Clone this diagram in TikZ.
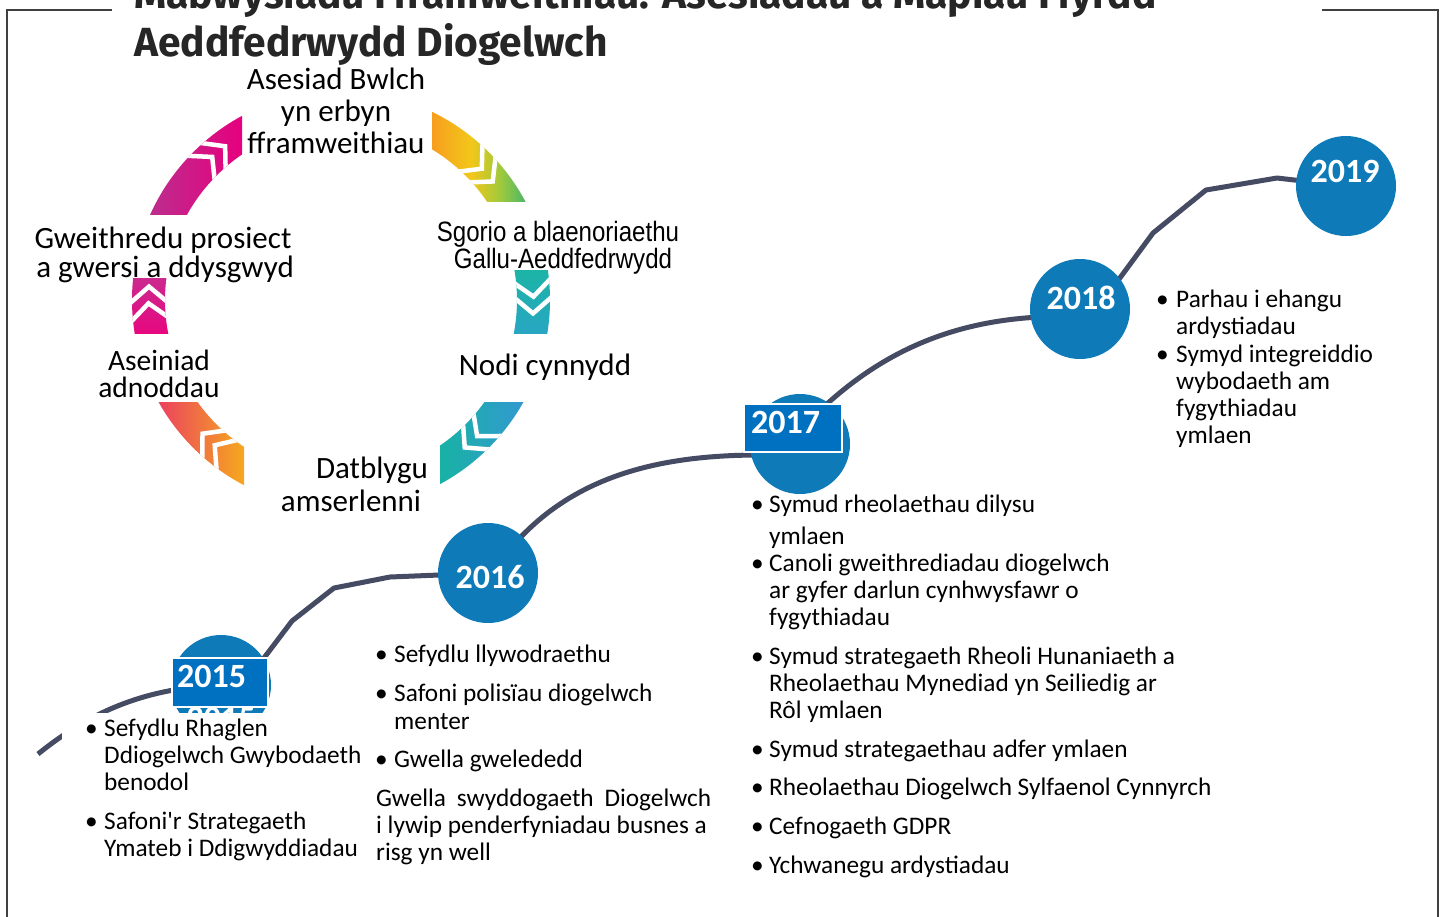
\documentclass[tikz,border=0pt]{standalone}
\usepackage{fontspec}
\setmainfont{Carlito}[Ligatures=TeXOff]
\newfontfamily\titlefont{Fira Sans}
\newfontfamily\narrowfont[FakeStretch=0.86]{Liberation Sans}
\usetikzlibrary{calc}
\definecolor{tline}{HTML}{454B63}
\definecolor{yc}{HTML}{0E7AB8}
\definecolor{yb}{HTML}{0070C0}
\definecolor{titlec}{HTML}{262626}
\definecolor{framec}{HTML}{404040}
\definecolor{tlA}{HTML}{B8328F}
\definecolor{tlB}{HTML}{E6007E}
\definecolor{rbA}{HTML}{1CB4A6}
\definecolor{rbB}{HTML}{28A6C2}
\definecolor{brA}{HTML}{3597D3}
\definecolor{brB}{HTML}{18B2A5}
\definecolor{blA}{HTML}{EA3866}
\definecolor{blB}{HTML}{F6A81E}
\definecolor{lbA}{HTML}{CB2A8F}
\definecolor{lbB}{HTML}{E6077F}
\pgfdeclarehorizontalshading{trsh}{100bp}{rgb(0bp)=(0.97,0.62,0.12); rgb(25bp)=(0.97,0.62,0.12); rgb(45bp)=(0.95,0.78,0.10); rgb(60bp)=(0.62,0.79,0.24); rgb(75bp)=(0.24,0.70,0.44); rgb(100bp)=(0.24,0.70,0.44)}
% angles are TikZ angles (y axis points down, so they run clockwise on screen)
\newcommand\sector[2]{([shift={(341,300)}]#1:209) arc[start angle=#1,end angle=#2,radius=209] -- ([shift={(341,300)}]#2:176) arc[start angle=#2,end angle=#1,radius=176] -- cycle}
\newcommand\chev[2]{\draw[chevs] ([shift={(341,300)}]#2:216) -- ([shift={(341,300)}]#1:192.5) -- ([shift={(341,300)}]#2:169);}
\begin{document}
\begin{tikzpicture}[x=1pt,y=-1pt,
  framel/.style={draw=framec,line width=2pt},
  tx/.style={anchor=base west,inner sep=0pt,font=\fontsize{25.3}{30}\selectfont,text=black},
  cyc/.style={anchor=base,inner sep=0pt,font=\fontsize{31}{36}\selectfont,text=black},
  cycs/.style={anchor=base,inner sep=0pt,font=\fontsize{29.5}{33}\selectfont,text=black},
  narrow/.style={anchor=base,inner sep=0pt,font=\narrowfont\fontsize{28}{30}\selectfont,text=black},
  chevs/.style={draw=white,line width=4.5pt},
  tl/.style={draw=tline,line width=5pt,line join=round},
  yearc/.style={circle,fill=yc,minimum size=100pt,inner sep=0pt},
  yeart/.style={anchor=base,inner sep=0pt,font=\bfseries\fontsize{34}{40}\selectfont,text=white},
  yrect/.style={rectangle,fill=yb,draw=white,line width=1.2pt,inner sep=0pt},
]
\useasboundingbox (0,0) rectangle (1442,916);
\fill[white] (0,0) rectangle (1442,916);
% frame
\draw[framel] (112,10) -- (7,10) -- (7,917);
\draw[framel] (1322,10) -- (1438,10) -- (1438,917);
% title
\node[anchor=base west,inner sep=0pt,font=\titlefont\bfseries\fontsize{40.7}{48}\selectfont,text=titlec] (title1) at (134,8) {Mabwysiadu Fframweithiau: Asesiadau a Mapiau Ffyrdd};
\node[anchor=base west,inner sep=0pt,font=\titlefont\bfseries\fontsize{40.7}{48}\selectfont,text=titlec] (title2) at (134,56) {Aeddfedrwydd Diogelwch};

% cycle bands
\begin{scope}
  \clip (100,90) rectangle (242,214);
  \clip \sector{-90}{-180};
  \shade[left color=tlA,right color=tlB] (140,100) rectangle (242,214);
  \chev{-127}{-133}\chev{-132}{-138}
\end{scope}
\begin{scope}
  \clip (432,90) rectangle (580,201);
  \clip \sector{0}{-90};
  \shade[shading=trsh] (432,100) rectangle (530,201);
  \chev{-38}{-44}\chev{-43}{-49}
\end{scope}
\begin{scope}
  \clip (341,270) rectangle (580,333);
  \clip \sector{30}{-30};
  \shade[top color=rbA,bottom color=rbB] (500,270) rectangle (560,333);
  \chev{4}{-2}\chev{-1}{-7}
\end{scope}
\begin{scope}
  \clip (440,402) rectangle (580,520);
  \clip \sector{90}{0};
  \shade[left color=brB,right color=brA] (440,402) rectangle (530,490);
  \chev{50}{44}\chev{45}{39}
\end{scope}
\begin{scope}
  \clip (100,402) rectangle (244,520);
  \clip \sector{180}{90};
  \shade[left color=blA,right color=blB] (150,402) rectangle (244,490);
  \chev{-224}{-230}\chev{-229}{-235}
\end{scope}
\begin{scope}
  \clip (100,278) rectangle (341,333);
  \clip \sector{210}{150};
  \shade[top color=lbA,bottom color=lbB] (120,278) rectangle (170,333);
  \chev{-176}{-182}\chev{-181}{-187}
\end{scope}

% cycle labels
\node[cyc] (ca1) at (336,89) {Asesiad Bwlch};
\node[cyc] (ca2) at (336,121) {yn erbyn};
\node[cyc] (ca3) at (336,153) {fframweithiau};
\node[narrow] (cb1) at (558,241) {Sgorio a blaenoriaethu};
\node[narrow] (cb2) at (563,268) {Gallu-Aeddfedrwydd};
\node[cyc] (cc1) at (545,375) {Nodi cynnydd};
\node[cyc] (cd1) at (372,478) {Datblygu};
\node[cyc] (cd2) at (351,511) {amserlenni};
\node[cycs] (ce1) at (159,370) {Aseiniad};
\node[cycs] (ce2) at (159,397) {adnoddau};
\node[cyc] (cf1) at (163,248) {Gweithredu prosiect};
\node[cyc] (cf2) at (165,277) {a gwersi a ddysgwyd};

% timeline circles (coordinates)
\coordinate (p15) at (221,685);
\coordinate (p16) at (488,573);
\coordinate (p17) at (800,444);
\coordinate (p18) at (1080,309);
\coordinate (p19) at (1346,186);
\coordinate (s0) at (38,754);
\coordinate (s15) at (245,683);
\coordinate (s16) at (505,555);
\coordinate (e17) at (760,455);
\coordinate (s17) at (810,420);
\coordinate (e18) at (1040,317);
\coordinate (s18) at (1100,305);

% timeline
\draw[tl] (s0) .. controls (95,708) and (150,688) .. (p15);
\draw[tl] (s15) -- (292,621) -- (334,588) -- (390,577) -- (p16);
\draw[tl] (s16) .. controls (565,480) and (650,455) .. (e17);
\draw[tl] (s17) .. controls (870,360) and (940,322) .. (e18);
\draw[tl] (s18) -- (1153,233) -- (1206,190) -- (1277,178) -- (p19);

\node[yearc] (c15) at (p15) {};
\node[yearc] (c16) at (p16) {};
\node[yearc] (c17) at (p17) {};
\node[yearc] (c18) at (p18) {};
\node[yearc] (c19) at (p19) {};
\node[yeart] (y15b) at (221,729) {2015};
\node[yeart] (y16) at (490,588) {2016};
\node[yeart] (y18) at (1081,309) {2018};
\node[yeart] (y19) at (1345,182) {2019};

% white text box over 2015
\fill[white] (62,713) rectangle (366,872);

% label rectangles
\node[yrect,minimum width=96pt,minimum height=49pt] (r15) at (220,682.5) {};
\node[yeart,anchor=base west] (y15) at (177,687) {2015};
\node[yrect,minimum width=98pt,minimum height=48pt] (r17) at (793,428) {};
\node[yeart,anchor=base west] (y17) at (751,433) {2017};

% 2015 text
\node[tx] (a0) at (85,736) {•};
\node[tx] (a1) at (104,736) {Sefydlu Rhaglen};
\node[tx] (a2) at (104,763) {Ddiogelwch Gwybodaeth};
\node[tx] (a3) at (104,790) {benodol};
\node[tx] (a4) at (85,829) {•};
\node[tx] (a5) at (104,829) {Safoni'r Strategaeth};
\node[tx] (a6) at (104,856) {Ymateb i Ddigwyddiadau};

% 2016 text
\node[tx] (b0) at (375,662) {•};
\node[tx] (b1) at (394,662) {Sefydlu llywodraethu};
\node[tx] (b2) at (375,701) {•};
\node[tx] (b3) at (394,701) {Safoni polisïau diogelwch};
\node[tx] (b4) at (394,729) {menter};
\node[tx] (b5) at (375,767) {•};
\node[tx] (b6) at (394,767) {Gwella gwelededd};
\node[tx] (b7) at (376,806) {\makebox[335pt][s]{Gwella\hfill swyddogaeth\hfill Diogelwch}};
\node[tx] (b8) at (376,833) {i lywip penderfyniadau busnes a};
\node[tx] (b9) at (376,860) {risg yn well};

% 2017 text
\node[tx] (d0) at (751,512) {•};
\node[tx] (d1) at (769,512) {Symud rheolaethau dilysu};
\node[tx] (d2) at (769,544) {ymlaen};
\node[tx] (d3) at (751,571) {•};
\node[tx] (d4) at (769,571) {Canoli gweithrediadau diogelwch};
\node[tx] (d5) at (769,598) {ar gyfer darlun cynhwysfawr o};
\node[tx] (d6) at (769,625) {fygythiadau};
\node[tx] (d7) at (751,664) {•};
\node[tx] (d8) at (769,664) {Symud strategaeth Rheoli Hunaniaeth a};
\node[tx] (d9) at (769,691) {Rheolaethau Mynediad yn Seiliedig ar};
\node[tx] (d10) at (769,718) {Rôl ymlaen};
\node[tx] (d11) at (751,757) {•};
\node[tx] (d12) at (769,757) {Symud strategaethau adfer ymlaen};
\node[tx] (d13) at (751,795) {•};
\node[tx] (d14) at (769,795) {Rheolaethau Diogelwch Sylfaenol Cynnyrch};
\node[tx] (d15) at (751,834) {•};
\node[tx] (d16) at (769,834) {Cefnogaeth GDPR};
\node[tx] (d17) at (751,873) {•};
\node[tx] (d18) at (769,873) {Ychwanegu ardystiadau};

% 2018 text
\node[tx] (e0) at (1156,307) {•};
\node[tx] (e1) at (1176,307) {Parhau i ehangu};
\node[tx] (e2) at (1176,334) {ardystiadau};
\node[tx] (e3) at (1156,362) {•};
\node[tx] (e4) at (1176,362) {Symyd integreiddio};
\node[tx] (e5) at (1176,389) {wybodaeth am};
\node[tx] (e6) at (1176,416) {fygythiadau};
\node[tx] (e7) at (1176,443) {ymlaen};
\end{tikzpicture}
\end{document}
